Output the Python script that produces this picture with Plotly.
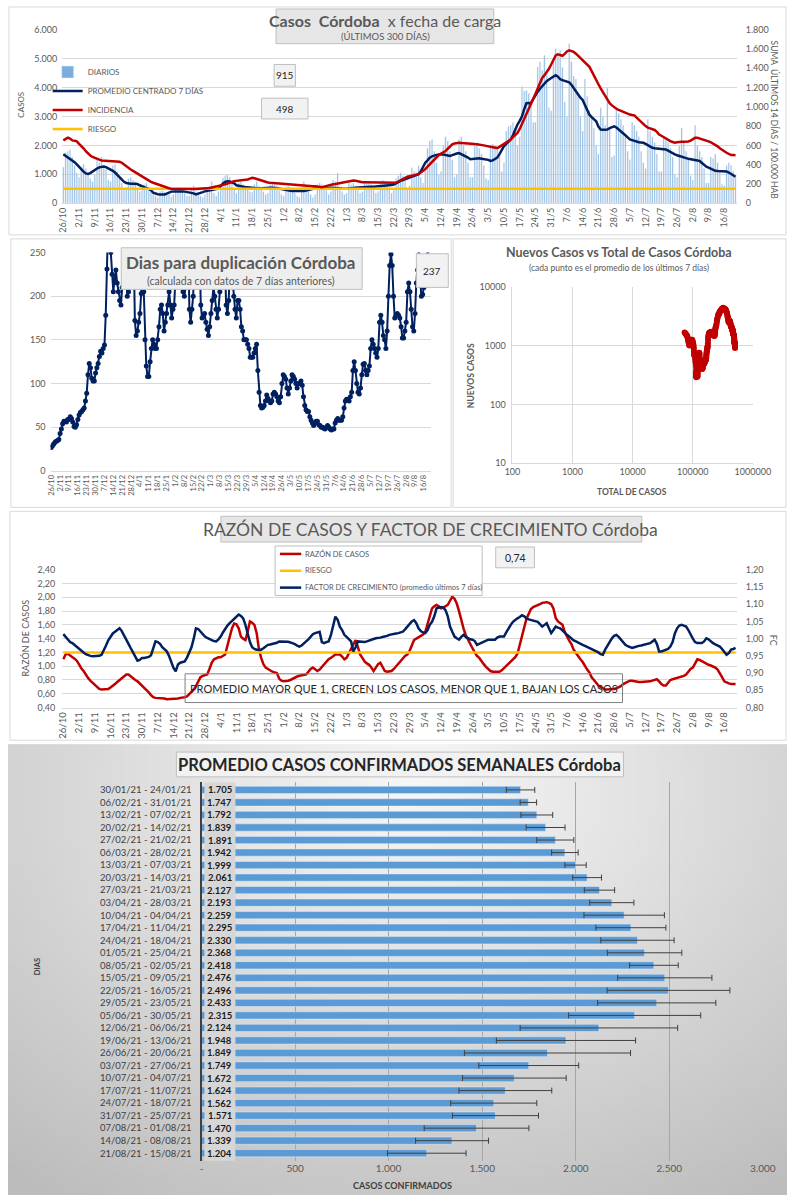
import base64
import struct
import zlib

import pandas as pd
import plotly.graph_objects as go

# ---------------------------------------------------------------------------
# Datos (26/10/2020 - 21/08/2021)
# ---------------------------------------------------------------------------
fechas = pd.date_range("2020-10-26", periods=300)
dias = list(range(300))
tick_idx = list(range(0, 300, 7))
tick_txt = [f"{fechas[i].day}/{fechas[i].month}" for i in tick_idx]

diarios = [
    1250, 1750, 1800, 1850, 1600, 1300, 1050,
    900, 1250, 1350, 1200, 1050, 850, 750,
    1000, 1550, 1400, 1600, 1300, 1200, 800,
    750, 1300, 1350, 1100, 900, 700, 500,
    550, 850, 900, 800, 750, 500, 400,
    450, 650, 700, 550, 400, 350, 250,
    200, 400, 450, 400, 350, 300, 220,
    300, 500, 550, 500, 450, 350, 250,
    250, 450, 600, 400, 300, 250, 200,
    300, 550, 600, 750, 350, 250, 400,
    450, 880, 950, 980, 900, 700, 500,
    350, 700, 750, 650, 600, 550, 400,
    380, 650, 750, 600, 550, 400, 300,
    350, 650, 700, 650, 600, 450, 300,
    250, 550, 600, 550, 500, 350, 250,
    200, 550, 750, 600, 450, 300, 200,
    300, 650, 700, 650, 600, 450, 300,
    400, 800, 750, 1040, 500, 400, 300,
    350, 700, 650, 700, 600, 450, 350,
    400, 750, 700, 700, 650, 450, 350,
    400, 750, 800, 750, 700, 500, 350,
    450, 850, 950, 1050, 950, 800, 500,
    600, 1230, 1100, 1050, 1300, 900, 700,
    1200, 1900, 2150, 2200, 1800, 1400, 1000,
    1100, 2000, 2300, 2150, 1800, 1500, 900,
    1000, 2200, 2300, 2000, 1800, 1400, 900,
    900, 2050, 2100, 1900, 1700, 1300, 850,
    800, 1950, 2050, 2000, 1850, 1650, 1100,
    1400, 2500, 2650, 2700, 2800, 2600, 2000,
    2300, 4030, 3880, 3900, 3800, 3500, 2800,
    2800, 4715, 4890, 4600, 5120, 4500, 3300,
    3200, 5000, 5340, 5120, 5300, 4700, 3500,
    3000, 5515, 4900, 4400, 4300, 3800, 3000,
    2500, 4300, 3700, 3200, 3000, 2600, 2000,
    1700, 3300, 3000, 2700, 3990, 2600, 1600,
    1650, 3300, 3100, 2900, 2700, 2300, 1800,
    1500, 2800, 2700, 2500, 2300, 1800, 1400,
    1200, 2900, 2500, 2300, 2100, 1700, 1100,
    1100, 2300, 2200, 2100, 1900, 1600, 1000,
    900, 2000, 2600, 2100, 1800, 1500, 950,
    800, 2700, 2000, 1800, 1600, 1200, 700,
    700, 1600, 1550, 1700, 1400, 1100, 650,
    600, 1300, 1400, 1300, 1100, 900,
]

promedio_7d = [
    1690, 1640, 1570, 1520, 1480, 1420, 1340,
    1250, 1170, 1090, 1030, 1010, 1040, 1100,
    1150, 1200, 1240, 1260, 1270, 1250, 1210,
    1180, 1120, 1060, 980, 900, 810, 740,
    700, 680, 670, 670, 670, 660, 620,
    580, 540, 520, 495, 450, 360, 330,
    310, 300, 290, 300, 330, 370, 400,
    405, 410, 405, 400, 405, 400, 385,
    380, 370, 340, 300, 320, 360, 380,
    410, 430, 445, 460, 480, 490, 500,
    600, 680, 740, 760, 750, 730, 690,
    620, 600, 580, 565, 555, 550, 540,
    520, 505, 500, 510, 520, 530, 532,
    535, 535, 532, 530, 525, 510, 490,
    470, 455, 440, 430, 420, 415, 410,
    405, 405, 420, 440, 460, 470, 490,
    520, 530, 525, 520, 520, 520, 525,
    530, 532, 535, 530, 520, 505, 497,
    500, 510, 525, 532, 535, 540, 548,
    555, 560, 560, 562, 565, 566, 570,
    575, 580, 585, 590, 600, 610, 625,
    640, 690, 730, 770, 800, 830, 850,
    868, 900, 930, 960, 1005, 1100, 1250,
    1400, 1480, 1576, 1620, 1656, 1670, 1680,
    1690, 1680, 1670, 1650, 1633, 1660, 1700,
    1720, 1736, 1700, 1660, 1633, 1580, 1519,
    1530, 1545, 1553, 1550, 1540, 1530, 1519,
    1500, 1462, 1480, 1530, 1576, 1700, 1850,
    1976, 2050, 2130, 2204, 2350, 2550, 2718,
    2850, 3003, 3250, 3460, 3470, 3460, 3600,
    3750, 3860, 3960, 4050, 4145, 4220, 4280,
    4330, 4374, 4430, 4380, 4290, 4260, 4240,
    4225, 4180, 4100, 4000, 3860, 3760, 3650,
    3574, 3400, 3200, 3060, 2980, 2900, 2832,
    2650, 2550, 2540, 2545, 2547, 2600, 2640,
    2660, 2620, 2560, 2490, 2420, 2350, 2280,
    2204, 2180, 2150, 2130, 2110, 2100, 2090,
    2050, 2000, 1960, 1918, 1900, 1890, 1880,
    1870, 1865, 1861, 1820, 1770, 1720, 1690,
    1660, 1630, 1600, 1576, 1560, 1540, 1530,
    1519, 1500, 1480, 1462, 1400, 1320, 1260,
    1233, 1190, 1150, 1119, 1110, 1110, 1115,
    1119, 1100, 1060, 1005, 950, 915,
]

# suma de los últimos 14 días cada 100.000 habitantes
incidencia = [
    652, 665, 680, 670, 652, 648, 642,
    615, 595, 570, 540, 513, 495, 480,
    468, 460, 452, 444, 442, 440, 440,
    440, 438, 437, 435, 430, 420, 400,
    380, 365, 350, 335, 320, 305, 290,
    275, 258, 243, 233, 222, 212, 203,
    195, 185, 175, 165, 160, 155, 150,
    149, 148, 148, 149, 150, 150, 150,
    149, 148, 147, 148, 149, 150, 150,
    152, 155, 158, 162, 166, 172, 178,
    184, 190, 195, 201, 210, 220, 229,
    232, 234, 236, 238, 242, 246, 255,
    264, 258, 250, 243, 235, 225, 218,
    215, 212, 210, 208, 206, 203, 201,
    199, 197, 195, 192, 189, 186, 184,
    183, 182, 181, 180, 179, 178, 177,
    177, 172, 168, 166, 172, 180, 186,
    191, 196, 200, 205, 210, 214, 218,
    218, 225, 230, 236, 232, 226, 220,
    218, 218, 217, 217, 218, 218, 218,
    218, 217, 215, 214, 212, 211, 210,
    209, 212, 225, 238, 250, 262, 274,
    280, 286, 292, 297, 301, 318, 335,
    353, 380, 405, 430, 456, 478, 500,
    515, 528, 541, 565, 593, 610, 620,
    627, 627, 625, 622, 620, 617, 615,
    614, 613, 612, 610, 605, 600, 595,
    590, 585, 578, 570, 572, 585, 600,
    610, 625, 642, 661, 685, 708, 730,
    770, 820, 884, 930, 975, 1021, 1080,
    1135, 1192, 1250, 1300, 1329, 1360, 1395,
    1440, 1490, 1534, 1545, 1540, 1530, 1550,
    1575, 1586, 1580, 1570, 1552, 1530, 1505,
    1483, 1460, 1438, 1415, 1370, 1320, 1278,
    1235, 1192, 1151, 1110, 1070, 1038, 1015,
    995, 980, 969, 958, 948, 938, 925,
    920, 915, 911, 888, 865, 842, 822,
    800, 785, 775, 767, 760, 740, 712,
    700, 685, 670, 661, 645, 635, 627,
    632, 637, 637, 637, 637, 640, 650,
    665, 678, 678, 672, 665, 655, 651,
    642, 632, 620, 610, 590, 570, 558,
    540, 523, 507, 500, 499, 498,
]
riesgo_incidencia = 150

duplicacion = [
    27, 29, 31, 33, 34, 35, 36,
    43, 48, 54, 57, 57, 56, 59,
    59, 62, 60, 56, 51, 50, 53,
    59, 64, 67, 68, 70, 72, 80,
    89, 110, 123, 118, 106, 103, 103,
    112, 118, 123, 131, 137, 135, 140,
    144, 178, 231, 290, 280, 250, 225,
    205, 220, 230, 215, 205, 195, 190,
    210, 260, 280, 270, 200, 205, 265,
    280, 270, 260, 172, 155, 160, 170,
    180, 203, 260, 205, 150, 120, 108,
    108, 125, 140, 150, 145, 140, 140,
    150, 165, 185, 190, 180, 160, 170,
    180, 190, 205, 190, 175, 185, 190,
    220, 260, 275, 280, 265, 230, 205,
    200, 210, 260, 265, 185, 170, 185,
    200, 260, 275, 280, 265, 255, 190,
    175, 178, 180, 170, 162, 155, 165,
    180, 195, 210, 200, 185, 175, 185,
    205, 260, 275, 265, 240, 190, 180,
    195, 260, 270, 220, 200, 185, 175,
    195, 195, 185, 165, 160, 150, 150,
    150, 145, 140, 130, 130, 130, 135,
    140, 145, 115, 90, 75, 72, 73,
    75, 80, 87, 83, 80, 78, 80,
    88, 90, 88, 85, 80, 78, 85,
    100, 110, 108, 105, 95, 88, 95,
    103, 110, 108, 105, 100, 95, 100,
    100, 103, 98, 85, 75, 70, 68,
    68, 62, 58, 55, 52, 55, 57,
    57, 53, 52, 50, 50, 49, 48,
    50, 52, 50, 48, 47, 48, 48,
    55, 58, 60, 58, 58, 58, 62,
    72, 80, 82, 82, 80, 85, 90,
    115, 125, 115, 100, 90, 88, 95,
    110, 122, 123, 115, 110, 115, 120,
    140, 150, 145, 140, 135, 130, 140,
    170, 178, 170, 155, 150, 140, 160,
    200, 235, 248, 235, 200, 175, 178,
    180, 178, 175, 165, 152, 152, 160,
    170, 205, 215, 205, 185, 165, 160,
    180, 215, 230, 255, 220, 200, 202,
    210, 225, 245, 255, 240, 237,
]

razon_casos = [
    1.10, 1.17, 1.18, 1.16, 1.13, 1.11, 1.08,
    1.02, 0.97, 0.93, 0.87, 0.83, 0.79, 0.76,
    0.72, 0.69, 0.67, 0.66, 0.66, 0.67, 0.67,
    0.69, 0.71, 0.74, 0.77, 0.80, 0.83, 0.86,
    0.88, 0.88, 0.85, 0.82, 0.80, 0.78, 0.75,
    0.72, 0.69, 0.66, 0.62, 0.58, 0.55, 0.54,
    0.54, 0.53, 0.53, 0.53, 0.52, 0.52, 0.52,
    0.53, 0.53, 0.53, 0.54, 0.54, 0.55, 0.56,
    0.59, 0.62, 0.66, 0.71, 0.78, 0.84, 0.86,
    0.87, 0.88, 0.96, 1.05, 1.10, 1.12, 1.13,
    1.13, 1.15, 1.17, 1.30, 1.45, 1.55, 1.62,
    1.61, 1.55, 1.43, 1.40, 1.38, 1.50, 1.65,
    1.63, 1.60, 1.48, 1.25, 1.12, 1.03, 0.98,
    0.96, 0.93, 0.92, 0.91, 0.90, 0.82, 0.79,
    0.78, 0.78, 0.79, 0.80, 0.82, 0.83, 0.85,
    0.86, 0.87, 0.88, 0.88, 0.92, 0.96, 0.98,
    0.95, 0.93, 0.95, 0.99, 1.03, 1.06, 1.10,
    1.12, 1.15, 1.17, 1.17, 1.17, 1.14, 1.10,
    1.12, 1.18, 1.25, 1.32, 1.38, 1.28, 1.17,
    1.12, 1.07, 1.04, 1.02, 0.98, 0.93, 0.98,
    1.03, 1.05, 0.99, 0.93, 0.92, 0.93, 0.93,
    0.96, 1.00, 1.03, 1.07, 1.12, 1.15, 1.17,
    1.22, 1.30, 1.38, 1.40, 1.42, 1.43, 1.46,
    1.50, 1.62, 1.75, 1.84, 1.87, 1.89, 1.87,
    1.84, 1.85, 1.87, 1.89, 1.95, 2.01, 1.98,
    1.91, 1.80, 1.66, 1.55, 1.45, 1.38, 1.32,
    1.26, 1.20, 1.15, 1.12, 1.07, 1.03, 0.99,
    0.96, 0.93, 0.92, 0.92, 0.91, 0.92, 0.94,
    0.97, 1.00, 1.03, 1.06, 1.09, 1.13, 1.18,
    1.30, 1.45, 1.58, 1.69, 1.76, 1.83, 1.86,
    1.87, 1.88, 1.90, 1.92, 1.93, 1.93, 1.92,
    1.90, 1.84, 1.70, 1.65, 1.63, 1.60, 1.50,
    1.43, 1.37, 1.32, 1.24, 1.19, 1.14, 1.10,
    1.06, 1.00, 0.95, 0.91, 0.84, 0.80, 0.76,
    0.72, 0.70, 0.68, 0.66, 0.66, 0.66, 0.66,
    0.67, 0.68, 0.69, 0.71, 0.74, 0.76, 0.78,
    0.79, 0.79, 0.78, 0.78, 0.77, 0.77, 0.77,
    0.77, 0.78, 0.78, 0.79, 0.80, 0.81, 0.78,
    0.74, 0.72, 0.72, 0.76, 0.80, 0.81, 0.82,
    0.82, 0.83, 0.84, 0.86, 0.88, 0.92, 0.96,
    0.98, 1.04, 1.10, 1.09, 1.07, 1.06, 1.04,
    1.02, 1.01, 1.00, 0.98, 0.95, 0.90, 0.84,
    0.78, 0.76, 0.75, 0.74, 0.74, 0.74,
]
riesgo_razon = 1.2

factor_crecimiento = [
    1.013, 1.006, 0.998, 0.990, 0.987, 0.981, 0.975,
    0.970, 0.965, 0.960, 0.955, 0.952, 0.950, 0.949,
    0.949, 0.949, 0.950, 0.953, 0.965, 0.980, 0.995,
    1.005, 1.015, 1.020, 1.025, 1.030, 1.022, 1.011,
    0.998, 0.985, 0.972, 0.960, 0.948, 0.936, 0.938,
    0.944, 0.944, 0.945, 0.947, 0.952, 0.975, 0.992,
    0.990, 0.985, 0.975, 0.968, 0.963, 0.950, 0.934,
    0.915, 0.905, 0.925, 0.930, 0.932, 0.934, 0.945,
    0.958, 0.975, 1.000, 1.030, 1.028, 1.020, 1.012,
    1.006, 1.002, 0.998, 0.996, 0.993, 0.992, 0.998,
    1.006, 1.018, 1.030, 1.038, 1.045, 1.052, 1.059,
    1.065, 1.070, 1.066, 1.059, 1.040, 1.010, 0.990,
    0.975, 0.970, 0.968, 0.968, 0.968, 0.972, 0.978,
    0.982, 0.983, 0.984, 0.986, 0.988, 0.992, 0.992,
    0.992, 0.992, 0.991, 0.989, 0.987, 0.984, 0.980,
    0.977, 0.980, 0.985, 0.992, 0.998, 1.005, 1.013,
    1.016, 1.018, 1.020, 0.990, 0.987, 0.990, 0.992,
    1.010, 1.035, 1.064, 1.055, 1.035, 1.025, 1.011,
    1.005, 0.998, 0.992, 0.963, 0.975, 0.992, 0.991,
    0.990, 0.990, 0.992, 0.995, 0.997, 0.999, 1.001,
    1.001, 1.003, 1.005, 1.006, 1.008, 1.011, 1.013,
    1.014, 1.015, 1.016, 1.018, 1.020, 1.027, 1.035,
    1.042, 1.050, 1.054, 1.045, 1.030, 1.022, 1.018,
    1.016, 1.025, 1.040, 1.049, 1.065, 1.088, 1.090,
    1.092, 1.090, 1.083, 1.065, 1.035, 1.020, 1.006,
    1.001, 0.997, 1.005, 1.011, 1.005, 1.001, 0.998,
    0.997, 0.993, 0.982, 0.985, 0.987, 0.990, 0.994,
    0.997, 0.997, 0.997, 0.997, 1.003, 1.006, 1.006,
    1.006, 1.018, 1.030, 1.040, 1.049, 1.055, 1.059,
    1.063, 1.068, 1.065, 1.059, 1.056, 1.054, 1.052,
    1.050, 1.049, 1.042, 1.035, 1.040, 1.045, 1.030,
    1.016, 1.025, 1.035, 1.032, 1.030, 1.024, 1.016,
    1.011, 1.006, 1.000, 0.995, 0.992, 0.988, 0.985,
    0.982, 0.979, 0.976, 0.973, 0.970, 0.967, 0.963,
    0.960, 0.955, 0.953, 0.968, 0.980, 0.992, 1.001,
    1.008, 1.011, 1.005, 0.997, 0.990, 0.982, 0.978,
    0.975, 0.973, 0.975, 0.978, 0.979, 0.980, 0.982,
    0.984, 0.986, 0.987, 0.992, 0.997, 0.985, 0.963,
    0.963, 0.965, 0.968, 0.970, 0.977, 0.990, 1.015,
    1.030, 1.038, 1.040, 1.038, 1.035, 1.025, 1.011,
    1.000, 0.990, 0.987, 0.987, 0.987, 0.992, 1.001,
    0.998, 0.992, 0.987, 0.983, 0.980, 0.977, 0.970,
    0.960, 0.953, 0.958, 0.968, 0.970, 0.973,
]

casos_previos = 72000  # total acumulado antes del 26/10
total_casos = list(casos_previos + pd.Series(diarios).cumsum())

semanas = [
    "30/01/21 - 24/01/21", "06/02/21 - 31/01/21", "13/02/21 - 07/02/21",
    "20/02/21 - 14/02/21", "27/02/21 - 21/02/21", "06/03/21 - 28/02/21",
    "13/03/21 - 07/03/21", "20/03/21 - 14/03/21", "27/03/21 - 21/03/21",
    "03/04/21 - 28/03/21", "10/04/21 - 04/04/21", "17/04/21 - 11/04/21",
    "24/04/21 - 18/04/21", "01/05/21 - 25/04/21", "08/05/21 - 02/05/21",
    "15/05/21 - 09/05/21", "22/05/21 - 16/05/21", "29/05/21 - 23/05/21",
    "05/06/21 - 30/05/21", "12/06/21 - 06/06/21", "19/06/21 - 13/06/21",
    "26/06/21 - 20/06/21", "03/07/21 - 27/06/21", "10/07/21 - 04/07/21",
    "17/07/21 - 11/07/21", "24/07/21 - 18/07/21", "31/07/21 - 25/07/21",
    "07/08/21 - 01/08/21", "14/08/21 - 08/08/21", "21/08/21 - 15/08/21",
]
promedio_semanal = [
    1705, 1747, 1792, 1839, 1891, 1942, 1999, 2061, 2127, 2193,
    2259, 2295, 2330, 2368, 2418, 2476, 2496, 2433, 2315, 2124,
    1948, 1849, 1749, 1672, 1624, 1562, 1571, 1470, 1339, 1204,
]
desvio_semanal = [
    76, 44, 85, 104, 99, 71, 57, 77, 81, 118,
    215, 187, 196, 199, 130, 252, 328, 316, 353, 421,
    372, 444, 267, 277, 248, 230, 230, 280, 195, 210,
]

for serie in (diarios, promedio_7d, incidencia, duplicacion, razon_casos, factor_crecimiento):
    assert len(serie) == 300, len(serie)

# ---------------------------------------------------------------------------
# Estilo
# ---------------------------------------------------------------------------
W, H = 805, 1200
FONT = "Lato"
GRIS = "#595959"
GRID = "#d9d9d9"
AZUL_BARRA = "#5b9bd5"
AZUL_OSC = "#002060"
ROJO = "#c00000"
AMARILLO = "#ffc000"


def px(x):
    return x / W


def py(y):
    return 1 - y / H


def miles(v):
    return f"{v:,}".replace(",", ".")


def coma(v):
    return f"{v:.2f}".replace(".", ",")


def fondo_degradado(w=64, h=36):
    """PNG chico con un degradé radial gris para el panel inferior."""
    filas = b""
    for j in range(h):
        fila = bytearray([0])
        for i in range(w):
            dx = (i / (w - 1) - 0.52) / 0.85
            dy = (j / (h - 1) - 0.08) / 1.15
            r = min(1.0, (dx * dx + dy * dy) ** 0.5)
            c = int(248 - 60 * r)
            fila += bytes((c, c, c))
        filas += bytes(fila)

    def chunk(tag, data):
        return (struct.pack(">I", len(data)) + tag + data
                + struct.pack(">I", zlib.crc32(tag + data) & 0xFFFFFFFF))

    png = (b"\x89PNG\r\n\x1a\n"
           + chunk(b"IHDR", struct.pack(">IIBBBBB", w, h, 8, 2, 0, 0, 0))
           + chunk(b"IDAT", zlib.compress(filas))
           + chunk(b"IEND", b""))
    return "data:image/png;base64," + base64.b64encode(png).decode()


fig = go.Figure()

# --- Panel 1: casos diarios --------------------------------------------------
fig.add_trace(go.Bar(
    x=dias, y=diarios, name="DIARIOS", marker_color=AZUL_BARRA, opacity=0.8,
    width=0.55, xaxis="x", yaxis="y", legendrank=1,
))
fig.add_trace(go.Scatter(
    x=dias, y=promedio_7d, name="PROMEDIO CENTRADO 7 DÍAS", mode="lines",
    line=dict(color=AZUL_OSC, width=2.5), xaxis="x", yaxis="y", legendrank=2,
))
fig.add_trace(go.Scatter(
    x=dias, y=[riesgo_incidencia] * len(dias), name="RIESGO", mode="lines",
    line=dict(color=AMARILLO, width=2.5), xaxis="x", yaxis="y2", legendrank=4,
))
fig.add_trace(go.Scatter(
    x=dias, y=incidencia, name="INCIDENCIA", mode="lines",
    line=dict(color=ROJO, width=2.5), xaxis="x", yaxis="y2", legendrank=3,
))

# --- Panel 2: días para duplicación -----------------------------------------
fig.add_trace(go.Scatter(
    x=dias, y=duplicacion, mode="lines+markers", showlegend=False,
    line=dict(color=AZUL_OSC, width=2), marker=dict(color=AZUL_OSC, size=5),
    xaxis="x3", yaxis="y3",
))

# --- Panel 3: nuevos casos vs total ------------------------------------------
fig.add_trace(go.Scatter(
    x=total_casos, y=promedio_7d, mode="markers", showlegend=False,
    marker=dict(color=ROJO, size=6), xaxis="x4", yaxis="y4",
))

# --- Panel 4: razón de casos y factor de crecimiento ------------------------
leyenda_razon = [
    ("RAZÓN DE CASOS", ROJO),
    ("RIESGO", AMARILLO),
    ("FACTOR DE CRECIMIENTO (promedio últimos 7 días)", AZUL_OSC),
]
fig.add_trace(go.Scatter(
    x=dias, y=razon_casos, name=leyenda_razon[0][0], mode="lines", showlegend=False,
    line=dict(color=ROJO, width=2.5), xaxis="x5", yaxis="y5",
))
fig.add_trace(go.Scatter(
    x=dias, y=[riesgo_razon] * len(dias), name=leyenda_razon[1][0], mode="lines",
    showlegend=False, line=dict(color=AMARILLO, width=2.5), xaxis="x5", yaxis="y5",
))
fig.add_trace(go.Scatter(
    x=dias, y=factor_crecimiento, name=leyenda_razon[2][0], mode="lines",
    showlegend=False, line=dict(color=AZUL_OSC, width=2.5), xaxis="x5", yaxis="y6",
))

# --- Panel 5: promedio semanal ----------------------------------------------
fig.add_trace(go.Bar(
    y=semanas, x=promedio_semanal, orientation="h", showlegend=False,
    marker_color=AZUL_BARRA, width=0.58,
    error_x=dict(type="data", array=desvio_semanal, color="#404040",
                 thickness=1, width=3),
    xaxis="x7", yaxis="y7",
))

tick_font = dict(size=9, color=GRIS)
eje_fechas = dict(
    range=[-0.5, 299.5], tickmode="array", tickvals=tick_idx, ticktext=tick_txt,
    tickangle=-90, showgrid=False, zeroline=False, showline=True,
    linecolor=GRID, ticks="", tickfont=tick_font,
)

fig.update_layout(
    width=W, height=H, margin=dict(l=0, r=0, t=0, b=0),
    paper_bgcolor="white", plot_bgcolor="rgba(0,0,0,0)",
    font=dict(family=FONT, color=GRIS),
    showlegend=True,
    xaxis=dict(eje_fechas, domain=[px(56), px(753)], anchor="y"),
    yaxis=dict(
        domain=[py(199), py(24)], range=[0, 6000], tickmode="array",
        tickvals=list(range(0, 6001, 1000)),
        ticktext=[miles(v) for v in range(0, 6001, 1000)],
        gridcolor=GRID, zeroline=False, tickfont=tick_font, anchor="x",
        ticklabelstandoff=4,
    ),
    yaxis2=dict(
        overlaying="y", side="right", range=[0, 1800], tickmode="array",
        tickvals=list(range(0, 1801, 200)),
        ticktext=[miles(v) for v in range(0, 1801, 200)],
        showgrid=False, zeroline=False, tickfont=tick_font, anchor="x",
        ticklabelstandoff=8,
    ),
    xaxis3=dict(eje_fechas, domain=[px(44), px(437)], anchor="y3",
                tickfont=dict(size=7.5, color=GRIS)),
    yaxis3=dict(
        domain=[py(469.3), py(248.7)], range=[0, 250], tickvals=[0, 50, 100, 150, 200, 250],
        gridcolor=GRID, zeroline=False, tickfont=tick_font, anchor="x3",
        ticklabelstandoff=4,
    ),
    xaxis4=dict(
        type="log", domain=[px(521.3), px(769.7)], range=[2, 6], anchor="y4",
        tickvals=[100, 1000, 10000, 100000, 1000000],
        ticktext=["100", "1000", "10000", "100000", "1000000"],
        gridcolor=GRID, showline=True, linecolor=GRID, zeroline=False,
        ticks="", tickfont=tick_font,
    ),
    yaxis4=dict(
        type="log", domain=[py(461.3), py(283.7)], range=[1, 4], anchor="x4",
        tickvals=[10, 100, 1000, 10000], ticktext=["10", "100", "1000", "10000"],
        gridcolor=GRID, showline=True, linecolor=GRID, zeroline=False,
        ticks="", tickfont=tick_font, ticklabelstandoff=4,
    ),
    xaxis5=dict(eje_fechas, domain=[px(56), px(753)], anchor="y5",
                tickfont=dict(size=9.5, color=GRIS)),
    yaxis5=dict(
        domain=[py(708), py(569)], range=[0.4, 2.4], tickmode="array",
        tickvals=[0.4 + 0.2 * i for i in range(11)],
        ticktext=[coma(0.4 + 0.2 * i) for i in range(11)],
        gridcolor=GRID, zeroline=False, tickfont=tick_font, anchor="x5",
        ticklabelstandoff=6,
    ),
    yaxis6=dict(
        overlaying="y5", side="right", range=[0.8, 1.2], tickmode="array",
        tickvals=[0.8 + 0.05 * i for i in range(9)],
        ticktext=[coma(0.8 + 0.05 * i) for i in range(9)],
        showgrid=False, zeroline=False, tickfont=tick_font, anchor="x5",
        ticklabelstandoff=8,
    ),
    xaxis7=dict(
        domain=[px(200), px(780)], range=[0, 3000], anchor="y7",
        tickvals=[0, 500, 1000, 1500, 2000, 2500, 3000],
        ticktext=["-"] + [miles(v) for v in range(500, 3001, 500)],
        gridcolor="#a6a6a6", zeroline=False, showline=False, ticks="",
        tickfont=dict(size=10, color=GRIS),
    ),
    yaxis7=dict(
        domain=[py(1165.4), py(783.6)], type="category", autorange="reversed",
        anchor="x7", showline=True, linecolor="#404040", linewidth=2,
        showgrid=False, ticks="", tickfont=dict(size=9.5, color="#404040"),
        ticklabelstandoff=6,
    ),
    legend=dict(
        x=px(41), y=py(52), xanchor="left", yanchor="top",
        bgcolor="rgba(0,0,0,0)", font=dict(size=8, color=GRIS),
        itemwidth=30, tracegroupgap=0,
    ),
)

# Fondo degradado del panel inferior
fig.add_layout_image(
    source=fondo_degradado(), xref="paper", yref="paper", x=0, y=py(745),
    sizex=1, sizey=py(745), sizing="stretch", xanchor="left", yanchor="top",
    layer="below",
)

# Marcos de los paneles y cajas de título
shapes = []


def caja(x0, y0, x1, y1, fill="rgba(0,0,0,0)", line="#d9d9d9", width=1):
    shapes.append(dict(
        type="rect", xref="paper", yref="paper", x0=px(x0), x1=px(x1),
        y0=py(y1), y1=py(y0), fillcolor=fill, line=dict(color=line, width=width),
        layer="above",
    ))


caja(1, 1, 804, 231)
caja(3, 235, 458, 506)
caja(460, 235, 804, 506)
caja(2, 510, 804, 741)
caja(277, 3, 502, 38, fill="#e7e6e6", line="#bfbfbf")
caja(117, 244, 366, 286, fill="#eeeeee", line="#bfbfbf")
caja(422, 250, 455, 284, fill="#f2f2f2", line="#bfbfbf")
caja(275, 59, 297, 81, fill="#f2f2f2", line="#bfbfbf")
caja(262, 93, 310, 114, fill="#f2f2f2", line="#bfbfbf")
caja(220, 515, 655, 541, fill="#e7e6e6", line="#bfbfbf")
caja(504, 546, 544, 567, fill="#f2f2f2", line="#bfbfbf")
caja(276, 545, 490, 595, fill="white", line="#bfbfbf")
caja(183, 674, 635, 703, line="#7f7f7f")
caja(174, 753, 636, 778, fill="#f2f2f2", line="#bfbfbf")
caja(203, 783.6, 235, 1165.4, fill="#d6d6d6", line="#d6d6d6", width=0)

# leyenda del panel de razón (dibujada a mano dentro de su caja)
for k, (nombre, color) in enumerate(leyenda_razon):
    yy = 553 + 17 * k
    shapes.append(dict(
        type="line", xref="paper", yref="paper", x0=px(281), x1=px(303),
        y0=py(yy), y1=py(yy), line=dict(color=color, width=2.5), layer="above",
    ))
fig.update_layout(shapes=shapes)

notas = []


def texto(x, y, t, size=10, color=GRIS, angle=0, bold=False, **kw):
    if bold:
        t = f"<b>{t}</b>"
    notas.append(dict(
        x=px(x), y=py(y), xref="paper", yref="paper", text=t, showarrow=False,
        font=dict(size=size, color=color, family=FONT), textangle=angle,
        xanchor=kw.pop("xanchor", "center"), yanchor=kw.pop("yanchor", "middle"), **kw,
    ))


texto(390, 15, "<b>Casos  Córdoba</b>  x fecha de carga", size=16)
texto(390, 31, "(ÚLTIMOS 300 DÍAS)", size=9.5)
texto(286, 70, str(promedio_7d[-1]), size=10, color="#262626")
texto(286, 104, str(incidencia[-1]), size=10, color="#262626")
texto(14, 100, "CASOS", size=8, angle=-90)
texto(792, 115, "SUMA  ÚLTIMOS 14 DÍAS / 100.000 HAB", size=8.5, angle=90)

texto(241, 259, "Dias para duplicación Córdoba", size=17, bold=True)
texto(241, 278, "(calculada con datos de 7 días anteriores)", size=10.5)
texto(438.5, 267, str(duplicacion[-1]), size=10, color="#262626")

texto(631, 249, "Nuevos Casos vs Total de Casos Córdoba", size=12.5, bold=True)
texto(631, 264, "(cada punto es el promedio de los últimos 7 días)", size=8.5)
texto(645, 490, "TOTAL DE CASOS", size=8.5, bold=True)
texto(478, 373, "NUEVOS CASOS", size=8.5, bold=True, angle=-90)

texto(437, 528, "RAZÓN DE CASOS Y FACTOR DE CRECIMIENTO Córdoba", size=17.5)
for k, (nombre, color) in enumerate(leyenda_razon):
    texto(305, 553 + 17 * k, nombre, size=7.5, xanchor="left")
texto(524, 557, coma(razon_casos[-1]), size=10.5, color="#262626")
texto(409, 689, "PROMEDIO MAYOR QUE 1, CRECEN LOS CASOS, MENOR QUE 1, BAJAN LOS CASOS",
      size=11, color="#262626")
texto(18, 638, "RAZÓN DE CASOS", size=9, angle=-90)
texto(791, 640, "FC", size=9, angle=90)

texto(405, 766, "PROMEDIO CASOS CONFIRMADOS SEMANALES Córdoba", size=16.5,
      color="#262626", bold=True)
texto(408, 1190, "CASOS CONFIRMADOS", size=9, color="#404040", bold=True)
texto(30, 970, "DIAS", size=7.5, color="#404040", bold=True, angle=-90)

for semana, valor in zip(semanas, promedio_semanal):
    notas.append(dict(
        x=98, y=semana, xref="x7", yref="y7", text=f"<b>{miles(valor)}</b>",
        showarrow=False, font=dict(size=9.5, color="#1a1a1a", family=FONT),
    ))

fig.update_layout(annotations=notas)

fig.write_html(
    "out.html",
    config={"displayModeBar": False},
    post_script="document.body.style.margin='0';",
)
